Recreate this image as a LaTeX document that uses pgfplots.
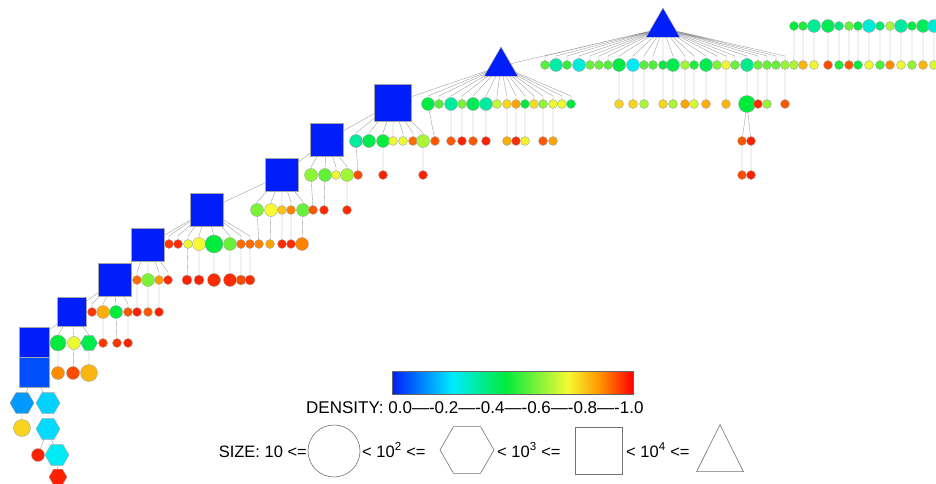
\documentclass[border=0pt]{standalone}
\usepackage{pgfplots}
\pgfplotsset{compat=1.18}
\usepackage{fontspec}
\setmainfont{Liberation Sans}
\pgfdeclareplotmark{hexagon*}{%
 \pgfpathmoveto{\pgfqpointpolar{0}{\pgfplotmarksize}}%
 \pgfpathlineto{\pgfqpointpolar{60}{\pgfplotmarksize}}%
 \pgfpathlineto{\pgfqpointpolar{120}{\pgfplotmarksize}}%
 \pgfpathlineto{\pgfqpointpolar{180}{\pgfplotmarksize}}%
 \pgfpathlineto{\pgfqpointpolar{240}{\pgfplotmarksize}}%
 \pgfpathlineto{\pgfqpointpolar{300}{\pgfplotmarksize}}%
 \pgfpathclose\pgfusepathqfillstroke}
\pgfplotsset{
 colormap={dens}{rgb255(0cm)=(0,30,250) rgb255(25cm)=(0,235,255) rgb255(47cm)=(0,235,60) rgb255(73cm)=(245,250,50) rgb255(86cm)=(255,150,0) rgb255(100cm)=(255,0,0)},
 treenodes/.style={scatter, only marks, point meta=explicit,
   scatter/use mapped color={draw=black!35, fill=mapped color},
   visualization depends on={\thisrow{r} \as \perpointr},
   scatter/@pre marker code/.append style={/tikz/mark size=\perpointr},
   line width=0.4pt}
}
\begin{document}
\begin{tikzpicture}
\begin{axis}[scale only axis, width=936pt, height=484pt,
  xmin=0, xmax=936, ymin=0, ymax=484, y dir=reverse, hide axis, clip=false,
  point meta min=0, point meta max=1, colormap name=dens, unbounded coords=jump]
% ---------------- edges
\addplot[black!40, line width=0.35pt, no markers] coordinates {
(663,28)(501,66) (nan,nan) (501,66)(393,103) (nan,nan) (393,103)(327,140) (nan,nan)
(327,140)(282,175) (nan,nan) (282,175)(207,210) (nan,nan) (207,210)(148,245) (nan,nan)
(148,245)(115,280) (nan,nan) (115,280)(72,312) (nan,nan) (72,312)(34,342) (nan,nan)
(34,342)(34,372) (nan,nan) (34,372)(22,403) (nan,nan) (34,372)(48,403) (nan,nan)
(22,403)(22,428) (nan,nan) (48,403)(48,429) (nan,nan) (48,429)(38,455) (nan,nan)
(48,429)(57,455) (nan,nan) (57,455)(58,477) (nan,nan)
% T2 fan
(663,28)(545,56)(545,65) (nan,nan) (663,28)(556,56)(556,65) (nan,nan) (663,28)(567,56)(567,65) (nan,nan)
(663,28)(579,56)(579,65) (nan,nan) (663,28)(590,56)(590,65) (nan,nan) (663,28)(599,56)(599,65) (nan,nan)
(663,28)(608,56)(608,65) (nan,nan) (663,28)(619,56)(619,65) (nan,nan) (663,28)(633,56)(633,65) (nan,nan)
(663,28)(644,56)(644,65) (nan,nan) (663,28)(653,56)(653,65) (nan,nan) (663,28)(663,65) (nan,nan)
(663,28)(673,56)(673,65) (nan,nan) (663,28)(685,56)(685,65) (nan,nan) (663,28)(694,56)(694,65) (nan,nan)
(663,28)(706,56)(706,65) (nan,nan) (663,28)(717,56)(717,65) (nan,nan) (663,28)(726,56)(726,65) (nan,nan)
(663,28)(735,56)(735,65) (nan,nan) (663,28)(747,56)(747,65) (nan,nan) (663,28)(758,56)(758,65) (nan,nan)
(663,28)(767,56)(767,65) (nan,nan) (663,28)(776,56)(776,65) (nan,nan) (663,28)(785,56)(785,65) (nan,nan)
% top row verticals
(794,26)(794,65) (nan,nan) (803,26)(803,65) (nan,nan) (814,26)(814,65) (nan,nan) (828,26)(828,65) (nan,nan)
(839,26)(839,65) (nan,nan) (849,26)(849,65) (nan,nan) (858,26)(858,65) (nan,nan) (869,26)(869,65) (nan,nan)
(880,26)(880,65) (nan,nan) (890,26)(890,65) (nan,nan) (901,26)(901,65) (nan,nan) (912,26)(912,65) (nan,nan)
(923,26)(923,65) (nan,nan) (934,26)(934,65) (nan,nan)
% T2 row -> 104
(619,65)(619,104) (nan,nan) (633,65)(633,104) (nan,nan) (644,65)(644,104) (nan,nan) (663,65)(663,104) (nan,nan)
(673,65)(673,104) (nan,nan) (685,65)(685,104) (nan,nan) (694,65)(694,104) (nan,nan) (706,65)(706,104) (nan,nan)
(726,65)(726,104) (nan,nan) (747,65)(747,104) (nan,nan) (758,65)(758,104) (nan,nan) (767,65)(767,104) (nan,nan)
(785,65)(785,104) (nan,nan)
(747,104)(742,141) (nan,nan) (747,104)(751,141) (nan,nan) (742,141)(742,175) (nan,nan) (751,141)(751,175) (nan,nan)
% T1 fan
(501,66)(428,96)(428,104) (nan,nan) (501,66)(439,96)(439,104) (nan,nan) (501,66)(451,96)(451,104) (nan,nan)
(501,66)(462,96)(462,104) (nan,nan) (501,66)(473,96)(473,104) (nan,nan) (501,66)(486,96)(486,104) (nan,nan)
(501,66)(497,96)(497,104) (nan,nan) (501,66)(507,96)(507,104) (nan,nan) (501,66)(516,96)(516,104) (nan,nan)
(501,66)(525,96)(525,104) (nan,nan) (501,66)(534,96)(534,104) (nan,nan) (501,66)(543,96)(543,104) (nan,nan)
(501,66)(553,96)(553,104) (nan,nan) (501,66)(562,96)(562,104) (nan,nan) (501,66)(571,96)(571,104) (nan,nan)
(428,104)(435,141) (nan,nan) (451,104)(451,141) (nan,nan) (462,104)(462,141) (nan,nan) (473,104)(473,141) (nan,nan)
(486,104)(486,141) (nan,nan) (507,104)(507,141) (nan,nan) (516,104)(516,141) (nan,nan) (525,104)(525,141) (nan,nan)
(543,104)(543,141) (nan,nan) (553,104)(553,141) (nan,nan)
% S9 fan
(393,103)(356,133)(356,141) (nan,nan) (393,103)(369,133)(369,141) (nan,nan) (393,103)(383,133)(383,141) (nan,nan)
(393,103)(393,141) (nan,nan) (393,103)(403,133)(403,141) (nan,nan) (393,103)(413,133)(413,141) (nan,nan)
(393,103)(423,133)(423,141) (nan,nan)
(356,141)(358,175) (nan,nan) (383,141)(383,175) (nan,nan) (423,141)(423,175) (nan,nan)
% S8 fan
(327,140)(311,167)(311,175) (nan,nan) (327,140)(325,167)(325,175) (nan,nan) (327,140)(336,167)(336,175) (nan,nan)
(327,140)(347,167)(347,175) (nan,nan)
(311,175)(313,210) (nan,nan) (325,175)(324,210) (nan,nan) (347,175)(347,210) (nan,nan)
% S7 fan
(282,175)(257,202)(257,210) (nan,nan) (282,175)(271,202)(271,210) (nan,nan) (282,175)(282,210) (nan,nan)
(282,175)(291,202)(291,210) (nan,nan) (282,175)(303,202)(303,210) (nan,nan)
(257,210)(259,244) (nan,nan) (271,210)(270,244) (nan,nan) (282,210)(282,244) (nan,nan) (291,210)(291,244) (nan,nan)
(303,210)(302,244) (nan,nan)
% S6 fan
(207,210)(169,236)(169,244) (nan,nan) (207,210)(178,236)(178,244) (nan,nan) (207,210)(188,236)(188,244) (nan,nan)
(207,210)(199,236)(199,244) (nan,nan) (207,210)(214,236)(214,244) (nan,nan) (207,210)(230,236)(230,244) (nan,nan)
(207,210)(241,236)(241,244) (nan,nan) (207,210)(250,236)(250,244) (nan,nan)
(188,244)(187,280) (nan,nan) (199,244)(199,280) (nan,nan) (214,244)(214,280) (nan,nan) (230,244)(230,280) (nan,nan)
(241,244)(241,280) (nan,nan) (250,244)(250,280) (nan,nan)
% S5 fan
(148,245)(137,272)(137,280) (nan,nan) (148,245)(148,280) (nan,nan) (148,245)(159,272)(159,280) (nan,nan)
(148,245)(168,272)(168,280) (nan,nan)
(137,280)(137,312) (nan,nan) (148,280)(148,312) (nan,nan) (159,280)(159,312) (nan,nan)
% S4 fan
(115,280)(92,304)(92,312) (nan,nan) (115,280)(103,304)(103,312) (nan,nan) (115,280)(116,312) (nan,nan)
(115,280)(128,304)(128,312) (nan,nan)
(103,312)(103,343) (nan,nan) (116,312)(117,343) (nan,nan) (128,312)(128,343) (nan,nan)
% S3 fan
(72,312)(58,335)(58,343) (nan,nan) (72,312)(74,343) (nan,nan) (72,312)(89,335)(89,343) (nan,nan)
(58,343)(58,373) (nan,nan) (74,343)(73,373) (nan,nan) (89,343)(89,373) (nan,nan)
};
% ---------------- circles
\addplot[treenodes, mark=*] table[x=x, y=y, meta=c]{
x y r c
22 428 8.5 0.78
38 455 6.5 0.97
58 343 8 0.47
74 343 6.5 0.72
103 343 4.5 0.95
117 343 4.5 0.95
128 343 4.5 0.97
58 373 6.5 0.87
73 373 6.5 0.93
89 373 8.5 0.82
92 312 4.5 0.95
103 312 6.5 0.83
116 312 6.5 0.47
128 312 4.5 0.92
137 312 4.5 0.97
148 312 4.5 0.92
159 312 4.5 0.97
137 280 4.5 0.9
148 280 6.5 0.6
159 280 4.5 0.85
168 280 4.5 0.96
187 280 5 0.97
199 280 5 0.97
214 280 6.5 0.96
230 280 6.5 0.96
241 280 5 0.93
250 280 5 0.96
169 244 4.5 0.95
178 244 4.5 0.96
188 244 4.5 0.72
199 244 6.5 0.73
214 244 9 0.47
230 244 6.5 0.58
241 244 4.5 0.9
250 244 4.5 0.9
259 244 4.5 0.88
270 244 4.5 0.84
282 244 4.5 0.96
291 244 4.5 0.96
302 244 6.5 0.88
257 210 6.5 0.6
271 210 6.5 0.73
282 210 4.5 0.8
291 210 4.5 0.88
303 210 6.5 0.58
313 210 4.5 0.92
324 210 4.5 0.96
347 210 4.5 0.96
311 175 6.5 0.62
325 175 6.5 0.57
336 175 4.5 0.72
347 175 6.5 0.64
358 175 4.5 0.93
383 175 4.5 0.97
423 175 4.5 0.97
356 141 6.5 0.36
369 141 6.5 0.45
383 141 6.5 0.48
393 141 4.5 0.72
403 141 4.5 0.72
413 141 4.5 0.9
423 141 6.5 0.65
435 141 4.5 0.92
451 141 4.5 0.92
462 141 4.5 0.97
473 141 4.5 0.92
486 141 4.5 0.97
507 141 4.5 0.83
516 141 4.5 0.96
525 141 4.5 0.74
543 141 4.5 0.92
553 141 4.5 0.84
428 104 6.5 0.46
439 104 4.5 0.56
451 104 6.5 0.36
462 104 4.5 0.6
473 104 6.5 0.44
486 104 6.5 0.36
497 104 4.5 0.68
507 104 4.5 0.78
516 104 4.5 0.84
525 104 4.5 0.47
534 104 4.5 0.77
543 104 4.5 0.62
553 104 4.5 0.72
562 104 4.5 0.72
571 104 4.5 0.47
619 104 4.5 0.78
633 104 4.5 0.78
644 104 4.5 0.65
663 104 4.5 0.78
673 104 4.5 0.65
685 104 4.5 0.84
694 104 4.5 0.7
706 104 4.5 0.83
726 104 4.5 0.82
747 104 8.5 0.47
758 104 4.5 0.96
767 104 4.5 0.63
785 104 4.5 0.92
742 141 4.5 0.92
751 141 4.5 0.97
742 175 4.5 0.93
751 175 4.5 0.97
545 65 4.5 0.56
556 65 6.5 0.35
567 65 4.5 0.52
579 65 6.5 0.29
590 65 4.5 0.58
599 65 4.5 0.58
608 65 4.5 0.56
619 65 6.5 0.46
633 65 6.5 0.26
644 65 4.5 0.56
653 65 4.5 0.55
663 65 4.5 0.47
673 65 6.5 0.45
685 65 4.5 0.64
694 65 4.5 0.5
706 65 6.5 0.45
717 65 4.5 0.6
726 65 4.5 0.72
735 65 4.5 0.58
747 65 6.5 0.38
758 65 4.5 0.58
767 65 4.5 0.58
776 65 4.5 0.58
785 65 4.5 0.63
794 65 4.5 0.65
803 65 4.5 0.82
814 65 4.5 0.72
828 65 4.5 0.93
839 65 4.5 0.5
849 65 4.5 0.92
858 65 4.5 0.47
869 65 4.5 0.72
880 65 4.5 0.55
890 65 4.5 0.87
901 65 4.5 0.72
912 65 4.5 0.62
923 65 4.5 0.82
934 65 4.5 0.7
794 26 4.5 0.47
803 26 4.5 0.5
814 26 6.5 0.37
828 26 6.5 0.44
839 26 4.5 0.4
849 26 4.5 0.58
858 26 4.5 0.46
869 26 6.5 0.3
880 26 4.5 0.4
890 26 4.5 0.65
901 26 6.5 0.36
912 26 4.5 0.46
923 26 6.5 0.44
934 26 6.5 0.3
};
% ---------------- hexagons
\addplot[treenodes, mark=hexagon*] table[x=x, y=y, meta=c]{
x y r c
22 403 12 0.15
48 403 12 0.22
48 429 12 0.23
57 455 12 0.26
58 477 9 0.97
89 343 8.5 0.45
};
% ---------------- squares
\addplot[treenodes, mark=square*] table[x=x, y=y, meta=c]{
x y r c
34 342 15 0.0
34 372 15 0.06
72 312 14.5 0.0
115 280 16.5 0.0
148 245 16.5 0.0
207 210 16.5 0.0
282 175 16.5 0.0
327 140 16.5 0.0
393 103 18.5 0.0
};
% ---------------- triangles
\addplot[treenodes, mark=triangle*] table[x=x, y=y, meta=c]{
x y r c
501 66.5 19.5 0.0
663 27.5 19.5 0.0
};
% ---------------- colour bar
\addplot[patch, shader=interp, point meta=explicit] table[x=x, y=y, meta=c]{
x y c
392 371 0
633 371 1
633 394 1
392 371 0
633 394 1
392 394 0
};
\addplot[black!60, line width=0.4pt, no markers] coordinates {(392,371)(633,371)(633,394)(392,394)(392,371)};
% ---------------- size legend shapes
\addplot[only marks, mark=*, mark size=26, mark options={draw=black!55, fill=white, line width=0.6pt}] coordinates {(334,451)};
\addplot[only marks, mark=hexagon*, mark size=27, mark options={draw=black!55, fill=white, line width=0.6pt}] coordinates {(467,450)};
\addplot[only marks, mark=square*, mark size=23.5, mark options={draw=black!55, fill=white, line width=0.6pt}] coordinates {(599,451)};
\addplot[only marks, mark=triangle*, mark size=27, mark options={draw=black!55, fill=white, line width=0.6pt, yscale=1.16}] coordinates {(720,456)};
% ---------------- texts
\node[anchor=base west, inner sep=0pt, font=\fontsize{17}{19}\selectfont] at (axis cs:306,413) {DENSITY: 0.0—-0.2—-0.4—-0.6—-0.8—-1.0};
\node[anchor=base east, inner sep=0pt, font=\fontsize{16.5}{18}\selectfont] at (axis cs:307,457) {SIZE: 10 <=};
\node[anchor=base west, inner sep=0pt, font=\fontsize{16.5}{18}\selectfont] at (axis cs:362,457) {< 10\textsuperscript{2} <=};
\node[anchor=base west, inner sep=0pt, font=\fontsize{16.5}{18}\selectfont] at (axis cs:497,457) {< 10\textsuperscript{3} <=};
\node[anchor=base west, inner sep=0pt, font=\fontsize{16.5}{18}\selectfont] at (axis cs:626,457) {< 10\textsuperscript{4} <=};
\end{axis}
\pgfresetboundingbox
\path (current axis.south west) rectangle (current axis.north east);
\end{tikzpicture}
\end{document}
